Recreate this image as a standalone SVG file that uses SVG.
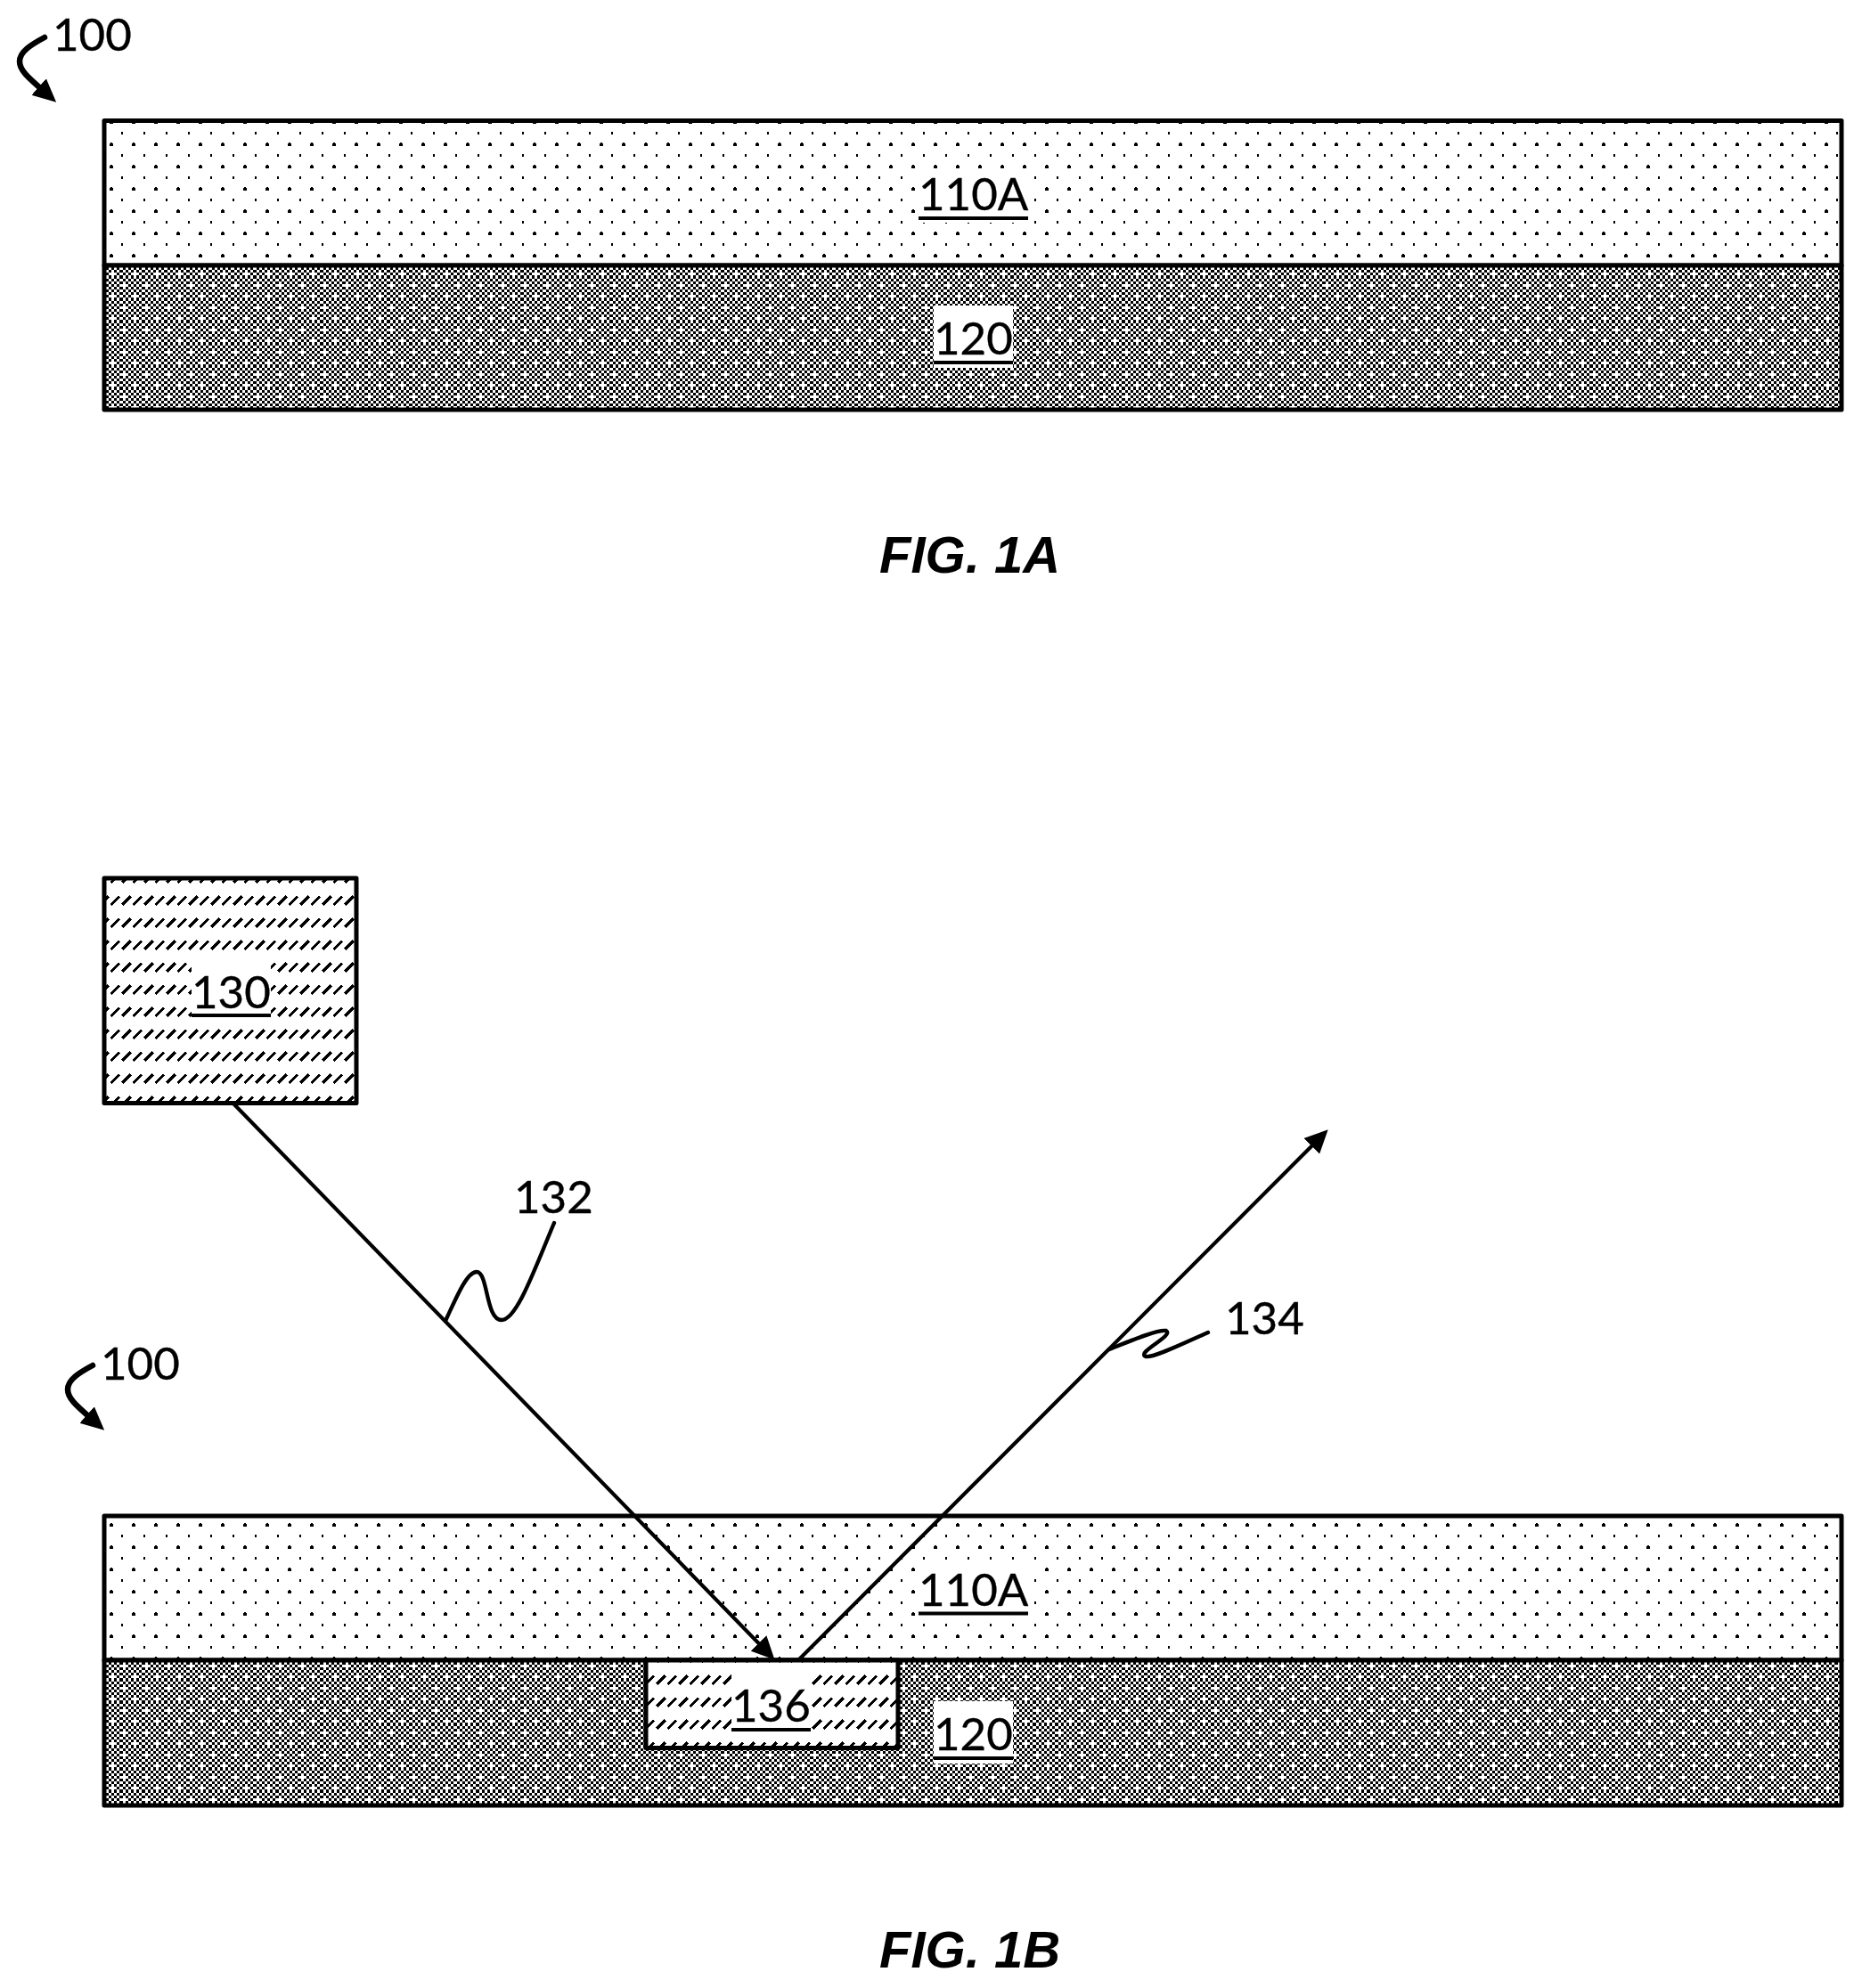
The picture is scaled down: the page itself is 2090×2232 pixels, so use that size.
<svg xmlns="http://www.w3.org/2000/svg" width="2090" height="2232" viewBox="0 0 2090 2232">
<style>
.box{stroke:#000;stroke-width:5;stroke-linejoin:round}
.dots{fill:url(#dots)}
.dense{fill:url(#dense)}
.hatch{fill:url(#hatch)}
.lbl{font-family:"Lato","Noto Sans",sans-serif;font-size:51px;fill:#000;stroke:#000;stroke-width:0.4}
.fig{font-family:"Liberation Sans",Arial,sans-serif;font-size:58px;font-weight:bold;font-style:italic;fill:#000}
.bg{fill:#fff}
.ul{fill:#000}
.ray{fill:none;stroke:#000;stroke-width:4.2}
.lead{fill:none;stroke:#000;stroke-width:4.4;stroke-linecap:round}
.curl{fill:none;stroke:#000;stroke-width:6.5;stroke-linecap:round}
</style>
<defs>
<pattern id="dots" patternUnits="userSpaceOnUse" x="20" y="5" width="25" height="25">
<rect width="25" height="25" fill="#fff"/>
<path d="M3 6h1v-1h2v1h1v3h-4z M16 18h2v3h-2z" fill="#000" shape-rendering="crispEdges"/>
</pattern>
<pattern id="dense" patternUnits="userSpaceOnUse" width="25" height="25" viewBox="0 0 8 8">
<rect width="8" height="8" fill="#fff"/>
<path shape-rendering="crispEdges" fill="#000" d="M0 0h1v1h-1z M2 0h1v1h-1z M4 0h1v1h-1z M6 0h1v1h-1z M1 1h1v1h-1z M3 1h1v1h-1z M5 1h1v1h-1z M7 1h1v1h-1z M2 2h1v1h-1z M4 2h1v1h-1z M6 2h1v1h-1z M1 3h1v1h-1z M3 3h1v1h-1z M5 3h1v1h-1z M7 3h1v1h-1z M0 4h1v1h-1z M2 4h1v1h-1z M4 4h1v1h-1z M6 4h1v1h-1z M1 5h1v1h-1z M3 5h1v1h-1z M5 5h1v1h-1z M7 5h1v1h-1z M0 6h1v1h-1z M2 6h1v1h-1z M6 6h1v1h-1z M1 7h1v1h-1z M3 7h1v1h-1z M5 7h1v1h-1z M7 7h1v1h-1z"/>
</pattern>
<pattern id="hatch" patternUnits="userSpaceOnUse" x="-2" y="0" width="25" height="25">
<rect width="25" height="25" fill="#fff"/>
<path shape-rendering="crispEdges" fill="none" stroke="#000" stroke-width="3" d="M1.500 16L11 6.500 M14 16L23.500 6.500"/>
</pattern>
<marker id="head" markerUnits="userSpaceOnUse" markerWidth="26" markerHeight="26" viewBox="0 0 24 24" refX="14" refY="12" orient="auto">
<path d="M0 0.5L24 12L0 23.5z" fill="#000"/>
</marker>
</defs>

<g id="ref-100-a">
<text class="lbl" x="59" y="57">100</text>
<path class="curl" marker-end="url(#head)" d="M50 42C35 50 22 58 22 69C22 80 34 89 55 107.5"/>
</g>
<g id="layer-110A-a">
<rect class="box dots" x="117" y="135.500" width="1950" height="162.500"/>
<rect class="bg" x="1031" y="190" width="123" height="60"/>
<text class="lbl" x="1031" y="236">110A</text>
<rect class="ul" x="1031" y="243" width="123" height="4"/>
</g>
<g id="layer-120-a">
<rect class="box dense" x="117" y="298" width="1950" height="162"/>
<rect class="bg" x="1048" y="343" width="89" height="70"/>
<text class="lbl" x="1048" y="398">120</text>
<rect class="ul" x="1048" y="405" width="89" height="4"/>
</g>
<text id="fig-1a" class="fig" x="987" y="642.500">FIG. 1A</text>

<g id="source-130">
<rect class="box hatch" x="117" y="986" width="283" height="252.500"/>
<rect class="bg" x="215" y="1077" width="89" height="70"/>
<text class="lbl" x="215" y="1132">130</text>
<rect class="ul" x="215" y="1138" width="89" height="4"/>
</g>
<g id="ref-100-b">
<text class="lbl" x="113" y="1549">100</text>
<path class="curl" marker-end="url(#head)" d="M104 1533C89 1541 76 1549 76 1560C76 1571 88 1580 109 1598.500"/>
</g>
<g id="layer-110A-b">
<rect class="box dots" x="117" y="1702" width="1950" height="162"/>
<rect class="bg" x="1031" y="1756" width="123" height="60"/>
<text class="lbl" x="1031" y="1802.500">110A</text>
<rect class="ul" x="1031" y="1809.500" width="123" height="4"/>
</g>
<g id="layer-120-b">
<rect class="box dense" x="117" y="1864" width="1950" height="163"/>
<rect class="bg" x="1048" y="1910" width="89" height="70"/>
<text class="lbl" x="1048" y="1965">120</text>
<rect class="ul" x="1048" y="1972" width="89" height="4"/>
</g>
<g id="spot-136">
<rect class="box hatch" x="725" y="1864" width="283" height="98.500"/>
<rect class="bg" x="821" y="1878" width="89" height="70"/>
<text class="lbl" x="821" y="1933">136</text>
<rect class="ul" x="821" y="1940" width="89" height="4"/>
</g>
<text id="fig-1b" class="fig" x="987" y="2209">FIG. 1B</text>

<g id="connectors">
<path class="ray" marker-end="url(#head)" d="M261 1238L862 1855.800"/>
<path class="ray" marker-end="url(#head)" d="M897 1863L1483 1276"/>
<path class="lead" d="M500 1483C515 1450 525 1428 535 1428C548 1428 545 1482 563 1482C580 1482 600 1425 622 1373"/>
<path class="lead" d="M1245 1515C1265 1507 1300 1492 1309 1494C1318 1500 1275 1518 1286 1523C1295 1525 1335 1505 1356 1496"/>
</g>
<g id="labels">
<text class="lbl" x="577" y="1361.500">132</text>
<text class="lbl" x="1375" y="1498">134</text>
</g>
</svg>
